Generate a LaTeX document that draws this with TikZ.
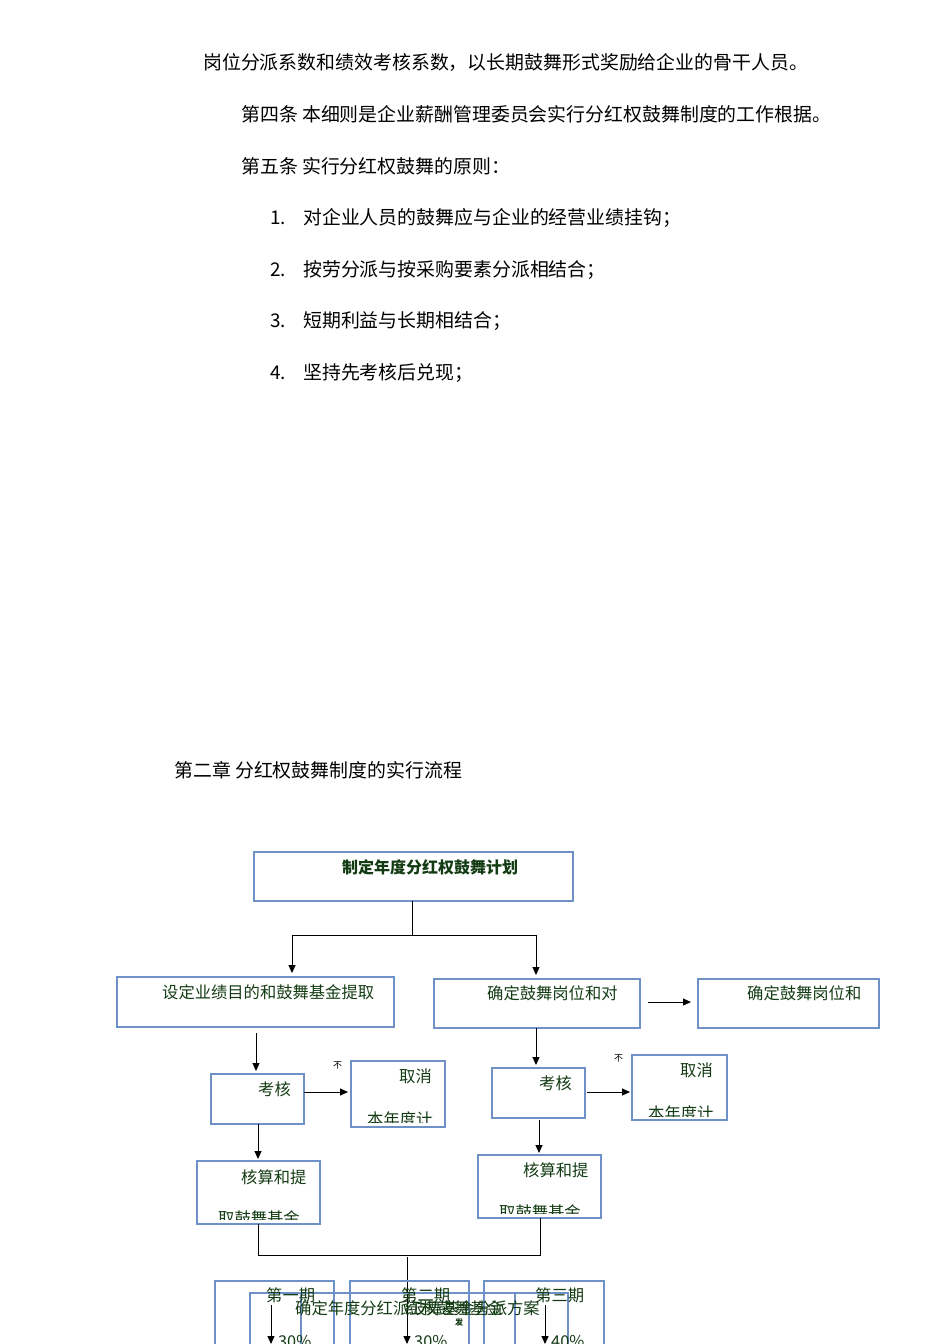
\documentclass[tikz,border=0pt]{standalone}
\usepackage{fontspec}
\setmainfont{Noto Sans CJK SC}
\usetikzlibrary{arrows.meta}
\definecolor{bx}{RGB}{110,145,200}
\definecolor{gt}{RGB}{20,60,20}
\tikzset{
 bxs/.style={draw=bx,line width=1.2pt},
 tt/.style={anchor=west,inner sep=0,font=\fontsize{18.9}{19}\selectfont},
 bt/.style={anchor=west,inner sep=0,text=gt,font=\fontsize{16.3}{17}\selectfont},
 ln/.style={line width=1pt},
 ar/.style={line width=1pt,-{Triangle[length=8pt,width=7pt]}},
}
\begin{document}
\begin{tikzpicture}[x=1pt,y=-1pt]
\useasboundingbox (0,0) rectangle (950,1344);
\fill[white] (0,0) rectangle (950,1344);
\node[tt] (t1) at (203,62) {岗位分派系数和绩效考核系数，以长期鼓舞形式奖励给企业的骨干人员。};
\node[tt] (t2) at (241,114) {第四条 本细则是企业薪酬管理委员会实行分红权鼓舞制度的工作根据。};
\node[tt] (t3) at (241,166) {第五条 实行分红权鼓舞的原则：};
\foreach \n/\y/\s in {1/218/对企业人员的鼓舞应与企业的经营业绩挂钩；,2/270/按劳分派与按采购要素分派相结合；,3/321/短期利益与长期相结合；,4/373/坚持先考核后兑现；}{
 \node[tt] (n\n) at (270,\y) {\n.};
 \node[tt] (i\n) at (303,\y) {\s};}
\node[tt] (h) at (174,770) {第二章 分红权鼓舞制度的实行流程};
% top
\draw[bxs] (254,852) rectangle (573,901);
\node[bt,anchor=center,font=\fontsize{16}{16}\selectfont\bfseries] (top) at (430,867) {制定年度分红权鼓舞计划};
\coordinate (tb) at (412,901);
\draw[ln] (tb) -- (412,935) coordinate (tj);
\draw[ln] (292,935) -- (536,935);
\draw[ar] (292,935) -- (292,973);
\draw[ar] (536,935) -- (536,975);
% row 2
\draw[bxs] (117,977) rectangle (394,1027);
\node[bt] (bl) at (162,992) {设定业绩目的和鼓舞基金提取};
\draw[bxs] (434,979) rectangle (640,1028);
\node[bt] (bm) at (487,993) {确定鼓舞岗位和对};
\draw[ar] (648,1002) -- (691,1002);
\draw[bxs] (698,979) rectangle (879,1028);
\node[bt] (br) at (747,993) {确定鼓舞岗位和};
% left column
\draw[ar] (256,1033) -- (256,1071);
\draw[bxs] (211,1074) rectangle (304,1124);
\node[bt] (kl) at (258,1089) {考核};
\draw[ar] (304,1092) -- (348,1092);
\node[bt,text=black,font=\fontsize{9}{9}\selectfont] (nl) at (333,1065) {不};
\draw[bxs] (351,1061) rectangle (445,1127);
\node[bt] (ql) at (399,1076) {取消};
\begin{scope}\clip (351,1061) rectangle (432,1122);
\node[bt] (ql2) at (367,1119) {本年度计划};\end{scope}
\draw[ar] (258,1124) -- (258,1159);
\draw[bxs] (197,1161) rectangle (320,1224);
\node[bt] (hl) at (241,1177) {核算和提};
\begin{scope}\clip (197,1161) rectangle (320,1219);
\node[bt] (hl2) at (218,1218) {取鼓舞基金};\end{scope}
% right column
\draw[ar] (536,1028) -- (536,1065);
\draw[bxs] (492,1068) rectangle (585,1118);
\node[bt] (kr) at (539,1083) {考核};
\draw[ar] (587,1092) -- (630,1092);
\node[bt,text=black,font=\fontsize{9}{9}\selectfont] (nr) at (614,1058) {不};
\draw[bxs] (632,1055) rectangle (727,1120);
\node[bt] (qr) at (680,1070) {取消};
\begin{scope}\clip (632,1055) rectangle (713,1116);
\node[bt] (qr2) at (648,1113) {本年度计划};\end{scope}
\draw[ar] (539,1120) -- (539,1153);
\draw[bxs] (478,1155) rectangle (601,1218);
\node[bt] (hr) at (523,1170) {核算和提};
\begin{scope}\clip (478,1155) rectangle (601,1213);
\node[bt] (hr2) at (499,1212) {取鼓舞基金};\end{scope}
% merge
\draw[ln] (258,1224) -- (258,1255) -- (540,1255) -- (540,1218);
\draw[ar] (407,1257) -- (407,1344);
% bottom boxes
\draw[bxs] (215,1281) rectangle (334,1350);
\draw[bxs] (350,1281) rectangle (469,1350);
\draw[bxs] (484,1281) rectangle (604,1350);
\draw[bxs] (250,1293) rectangle (568,1350);
\draw[bxs] (301,1293) -- (301,1350);
\draw[bxs] (515,1293) -- (515,1350);
\node[bt] (p1) at (266,1295) {第一期};
\node[bt] (p2) at (401,1295) {第二期};
\node[bt] (p3) at (535,1295) {第三期};
\node[bt] (pl) at (295,1308) {确定年度分红派鼓舞基金分派方案};
\node[bt] (pl2) at (405,1308) {红权鼓舞基金};
\node[bt,font=\fontsize{8}{8}\selectfont\bfseries] (fa) at (455,1322) {发};
\draw[ar] (271,1305) -- (271,1344);
\draw[ar] (545,1305) -- (545,1344);
\begin{scope}\clip (200,1320) rectangle (620,1344);
\node[bt] (c1) at (278,1342) {30\%};
\node[bt] (c2) at (414,1342) {30\%};
\node[bt] (c3) at (551,1342) {40\%};
\end{scope}
\end{tikzpicture}
\end{document}
